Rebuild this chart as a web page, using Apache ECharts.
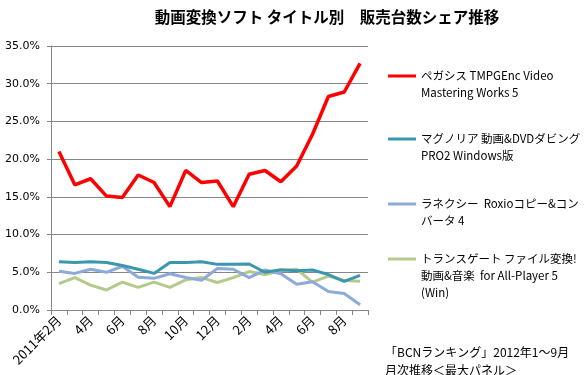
<!DOCTYPE html>
<html>
<head>
<meta charset="utf-8">
<script src="https://cdn.jsdelivr.net/npm/echarts@6/dist/echarts.min.js"></script>
<style>
  html, body { margin: 0; padding: 0; background: #fff; }
  #chart { width: 584px; height: 375px; }
</style>
</head>
<body>
<div id="chart"></div>
<script>
const months = ['2011年2月', '3月', '4月', '5月', '6月', '7月', '8月', '9月', '10月', '11月', '12月',
  '1月', '2月', '3月', '4月', '5月', '6月', '7月', '8月', '9月']

const seriesNames = [
  'ペガシス TMPGEnc Video\nMastering Works 5',
  'マグノリア 動画&DVDダビング\nPRO2 Windows版',
  'ラネクシー  Roxioコピー&コン\nバータ 4',
  'トランスゲート ファイル変換!\n動画&音楽  for All-Player 5\n(Win)'
]

const pegasys = [21.0, 16.6, 17.4, 15.1, 14.9, 17.9, 16.9, 13.7, 18.5, 16.9, 17.1, 13.7, 18.0, 18.5, 17.0, 19.1, 23.3, 28.3, 28.9, 32.7]
const magnolia = [6.4, 6.3, 6.4, 6.3, 5.9, 5.4, 4.85, 6.3, 6.3, 6.4, 6.05, 6.05, 6.1, 5.0, 5.35, 5.2, 5.3, 4.7, 3.8, 4.6]
const ranexy = [5.15, 4.85, 5.4, 5.0, 5.8, 4.35, 4.2, 4.8, 4.3, 3.95, 5.5, 5.4, 4.3, 5.3, 4.8, 3.4, 3.75, 2.45, 2.2, 0.7]
const transgate = [3.5, 4.3, 3.3, 2.65, 3.7, 3.0, 3.7, 3.0, 4.0, 4.3, 3.65, 4.3, 5.1, 4.7, 5.2, 5.4, 3.7, 4.5, 3.9, 3.8]

const colors = ['#ff0000', '#3b97ad', '#8eaad9', '#b3ca8a']
const allData = [pegasys, magnolia, ranexy, transgate]

// vertical centre of each legend's first text line
const legendCenters = [76, 139, 204, 259]
const lineH = 17
const textFont = "'Noto Sans CJK JP', sans-serif"

const chart = echarts.init(document.getElementById('chart'))

const option = {
  animation: false,
  title: {
    text: '動画変換ソフト タイトル別　販売台数シェア推移',
    left: 322,
    textAlign: 'center',
    top: 4,
    textStyle: { fontFamily: textFont, fontSize: 15.5, fontWeight: 'bold', color: '#000' }
  },
  grid: { left: 51, right: 216, top: 46, bottom: 65 },
  legend: seriesNames.map((n, i) => {
    const lines = n.split('\n').length
    // pad with blank lines above so the first line sits level with the icon
    const total = lines * 2 - 1
    return {
      data: [n],
      left: 388,
      top: legendCenters[i] - total * lineH / 2,
      padding: 0,
      itemWidth: 28,
      itemHeight: 3,
      icon: 'rect',
      formatter: name => ' \n'.repeat(lines - 1) + name,
      textStyle: {
        fontFamily: textFont,
        fontSize: 11.5,
        color: '#000',
        lineHeight: lineH
      }
    }
  }),
  xAxis: {
    type: 'category',
    data: months,
    boundaryGap: true,
    axisLine: { lineStyle: { color: '#868686', width: 1 } },
    axisTick: { show: true, interval: 0, length: 5, lineStyle: { color: '#868686' } },
    axisLabel: {
      interval: 1,
      rotate: 45,
      margin: 8,
      fontFamily: textFont,
      fontSize: 13,
      color: '#000'
    }
  },
  yAxis: {
    type: 'value',
    min: 0,
    max: 35,
    interval: 5,
    axisLine: { show: true, lineStyle: { color: '#868686' } },
    axisTick: { show: true, length: 4, lineStyle: { color: '#868686' } },
    splitLine: { lineStyle: { color: '#868686', width: 1 } },
    axisLabel: {
      formatter: v => v.toFixed(1) + '%',
      fontFamily: "'DejaVu Sans', sans-serif",
      fontSize: 11,
      color: '#000',
      margin: 11
    }
  },
  series: seriesNames.map((n, i) => ({
    name: n,
    type: 'line',
    data: allData[i],
    symbol: 'none',
    z: 10 - i,
    lineStyle: { color: colors[i], width: i === 0 ? 3.5 : 3 },
    itemStyle: { color: colors[i] }
  })),
  graphic: [
    {
      type: 'text',
      left: 385,
      top: 343,
      style: {
        text: '「BCNランキング」2012年1～9月\n月次推移＜最大パネル＞',
        font: "12px 'Noto Sans CJK JP', sans-serif",
        lineHeight: 18,
        fill: '#000'
      }
    }
  ]
}

chart.setOption(option)
</script>
</body>
</html>
